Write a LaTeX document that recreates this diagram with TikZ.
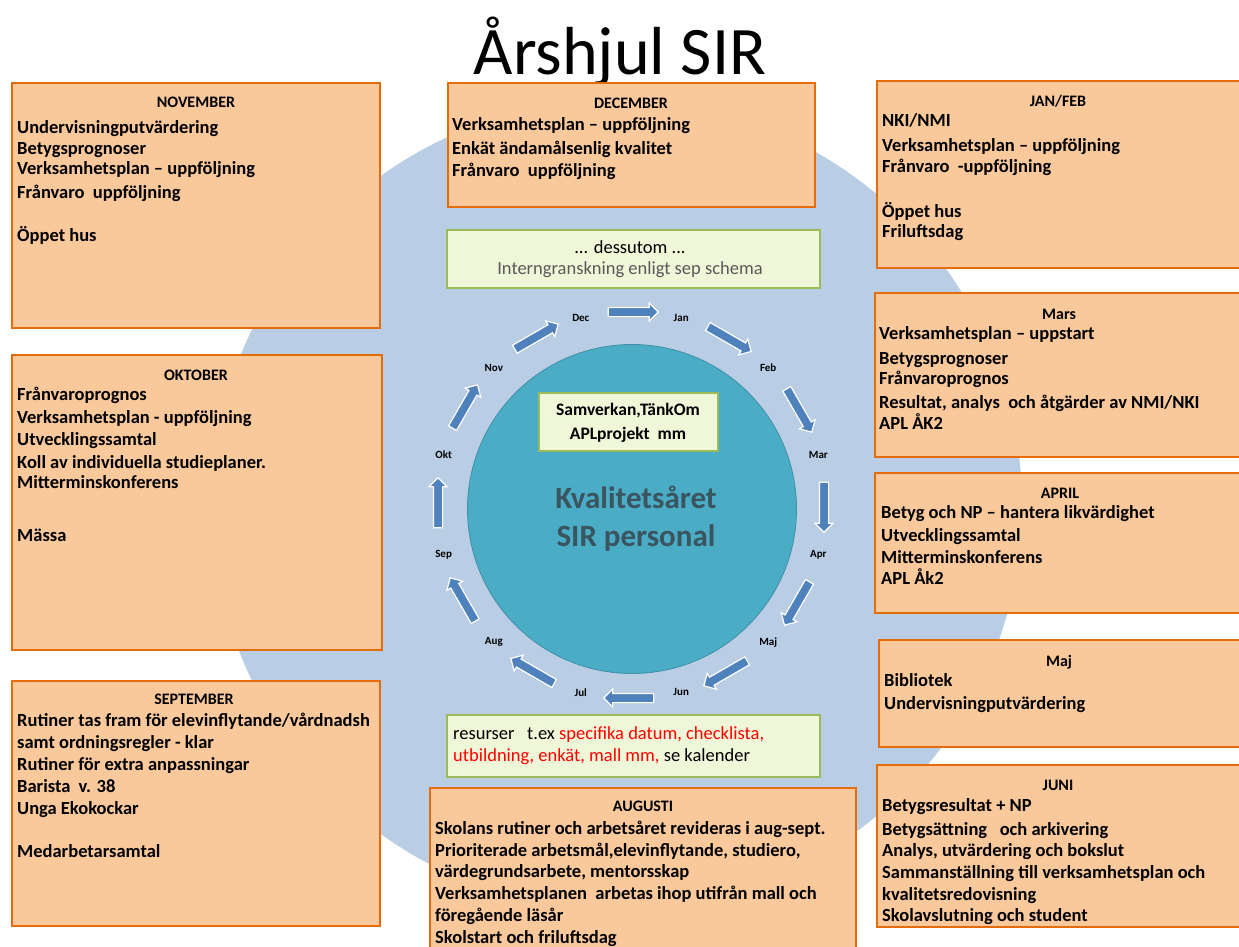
\documentclass[tikz,border=0pt]{standalone}
\usepackage{fontspec}
\setmainfont{Carlito}
\usetikzlibrary{shapes.arrows}
\definecolor{bgblue}{HTML}{B9CDE5}
\definecolor{tealfill}{HTML}{4BACC6}
\definecolor{tealline}{HTML}{3F8FA6}
\definecolor{arrowblue}{HTML}{4F81BD}
\definecolor{boxfill}{HTML}{F9C89B}
\definecolor{boxline}{HTML}{E46C0A}
\definecolor{gfill}{HTML}{F0F6D8}
\definecolor{gline}{HTML}{9BBB59}
\definecolor{centertext}{HTML}{3A5460}
\definecolor{graytext}{HTML}{595959}
\definecolor{redtext}{HTML}{FF0000}
\tikzset{
  obox/.style={draw=boxline, line width=1.6pt, fill=boxfill},
  gbox/.style={draw=gline, line width=2pt, fill=gfill},
  ttl/.style={font=\fontsize{16}{19}\selectfont\bfseries, anchor=base, inner sep=0pt},
  ln/.style={font=\fontsize{18.5}{21}\selectfont\bfseries, anchor=base west, inner sep=0pt},
  gtxt/.style={font=\fontsize{18.5}{22}\selectfont, inner sep=0pt},
  mlab/.style={font=\fontsize{11}{13}\selectfont\bfseries, inner sep=0pt},
  blk/.style={single arrow, draw=white, line width=1.2pt, fill=arrowblue,
    minimum height=50pt, inner sep=4pt, single arrow head extend=4.5pt,
    single arrow head indent=0pt},
}
\begin{document}
\begin{tikzpicture}[x=1pt,y=-1pt]
\useasboundingbox (0,0) rectangle (1239,947);
\fill[white] (0,0) rectangle (1239,947);
% background disc
\fill[bgblue] (617,505) circle[radius=405];
% title
\node[anchor=base, font=\fontsize{68}{80}\selectfont, inner sep=0pt] (title) at (620,75) {Årshjul SIR};
% hub
\node[circle, draw=tealline, line width=0.8pt, fill=tealfill, minimum size=329pt, inner sep=0pt] (hub) at (632,509) {};
\node[anchor=base, font=\fontsize{31}{36}\selectfont\bfseries, text=centertext, inner sep=0pt] (kv) at (636,508) {Kvalitetsåret};
\node[anchor=base, font=\fontsize{31}{36}\selectfont\bfseries, text=centertext, inner sep=0pt] (sirp) at (636,546) {SIR personal};
% inner green box
\path[gbox] (539,393) rectangle (718,451);
\node[anchor=base, font=\fontsize{17.5}{20}\selectfont\bfseries, inner sep=0pt] (samv) at (628,415) {Samverkan,TänkOm};
\node[anchor=base, font=\fontsize{17.5}{20}\selectfont\bfseries, inner sep=0pt] (aplp) at (628,439) {APLprojekt\ \ mm};
% month ring
\foreach \m [count=\i from 0] in {Dec,Jan,Feb,Mar,Apr,Maj,Jun,Jul,Aug,Sep,Okt,Nov} {
  \pgfmathsetmacro\ang{105-30*\i}
  \pgfmathsetmacro\bng{90-30*\i}
  \node[mlab] (m-\m) at ({631+194*cos(\ang)},{505-194*sin(\ang)}) {\m};
  \node[blk, rotate=\bng-90] (arr-\i) at ({631+193*cos(\bng)},{505-193*sin(\bng)}) {};
}
% top green box
\path[gbox] (447,230) rectangle (820,288);
\node[gtxt, anchor=base] (dess) at (630,253) {... dessutom ...};
\node[gtxt, anchor=base, text=graytext] (intg) at (630,274) {Interngranskning enligt sep schema};
% bottom green box
\path[gbox] (447,715) rectangle (820,777);
\node[gtxt, anchor=base west] (res1) at (453,739) {resurser\ \ \ t.ex \textcolor{redtext}{specifika datum, checklista,}};
\node[gtxt, anchor=base west] (res2) at (453,761) {\textcolor{redtext}{utbildning, enkät, mall mm,} se kalender};
% NOVEMBER
\path[obox] (12,83) rectangle (380,328);
\node[ttl] (nov-t) at (196,108) {NOVEMBER};
\foreach \y/\t [count=\k] in {133/Undervisningputvärdering,154/Betygsprognoser,175/{Verksamhetsplan – uppföljning},198/{Frånvaro\ \ uppföljning},241/{Öppet hus}}
  \node[ln] (nov-\k) at (17,\y) {\t};
% DECEMBER
\path[obox] (448,83) rectangle (815,207);
\node[ttl] (dec-t) at (631,109) {DECEMBER};
\foreach \y/\t [count=\k] in {131/{Verksamhetsplan – uppföljning},154/{Enkät ändamålsenlig kvalitet},176/{Frånvaro\ \ uppföljning}}
  \node[ln] (dec-\k) at (452,\y) {\t};
% JAN/FEB
\path[obox] (877,81) rectangle (1242,268);
\node[ttl] (jan-t) at (1058,107) {JAN/FEB};
\foreach \y/\t [count=\k] in {127/{NKI/NMI},151/{Verksamhetsplan – uppföljning},172/{Frånvaro\ \ -uppföljning},217/{Öppet hus},237/Friluftsdag}
  \node[ln] (jan-\k) at (882,\y) {\t};
% OKTOBER
\path[obox] (12,355) rectangle (382,650);
\node[ttl] (okt-t) at (196,380) {OKTOBER};
\foreach \y/\t [count=\k] in {400/Frånvaroprognos,423/{Verksamhetsplan - uppföljning},445/Utvecklingssamtal,468/{Koll av individuella studieplaner.},488/Mitterminskonferens,541/Mässa}
  \node[ln] (okt-\k) at (17,\y) {\t};
% MARS
\path[obox] (875,293) rectangle (1242,457);
\node[ttl] (mar-t) at (1059,319) {Mars};
\foreach \y/\t [count=\k] in {339/{Verksamhetsplan – uppstart},364/Betygsprognoser,384/Frånvaroprognos,408/{Resultat, analys\ \ och åtgärder av NMI/NKI},429/{APL ÅK2}}
  \node[ln] (mar-\k) at (879,\y) {\t};
% APRIL
\path[obox] (875,473) rectangle (1242,613);
\node[ttl] (apr-t) at (1060,498) {APRIL};
\foreach \y/\t [count=\k] in {518/{Betyg och NP – hantera likvärdighet},541/Utvecklingssamtal,563/Mitterminskonferens,584/{APL Åk2}}
  \node[ln] (apr-\k) at (881,\y) {\t};
% MAJ
\path[obox] (879,640) rectangle (1242,747);
\node[ttl] (maj-t) at (1059,666) {Maj};
\foreach \y/\t [count=\k] in {686/Bibliotek,709/Undervisningputvärdering}
  \node[ln] (maj-\k) at (884,\y) {\t};
% SEPTEMBER
\path[obox] (12,681) rectangle (380,926);
\node[ttl] (sep-t) at (194,704) {SEPTEMBER};
\foreach \y/\t [count=\k] in {726/{Rutiner tas fram för elevinflytande/vårdnadsh},748/{samt ordningsregler - klar},770/{Rutiner för extra anpassningar},792/{Barista\ \ v. 38},814/{Unga Ekokockar},857/Medarbetarsamtal}
  \node[ln] (sep-\k) at (17,\y) {\t};
% AUGUSTI
\path[obox] (430,788) rectangle (856,960);
\node[ttl] (aug-t) at (643,811) {AUGUSTI};
\foreach \y/\t [count=\k] in {834/{Skolans rutiner och arbetsåret revideras i aug-sept.},856/{Prioriterade arbetsmål,elevinflytande, studiero,},877/{värdegrundsarbete, mentorsskap},899/{Verksamhetsplanen\ \ arbetas ihop utifrån mall och},921/{föregående läsår},943/{Skolstart och friluftsdag}}
  \node[ln] (aug-\k) at (435,\y) {\t};
% JUNI
\path[obox] (877,765) rectangle (1242,927);
\node[ttl] (jun-t) at (1058,790) {JUNI};
\foreach \y/\t [count=\k] in {811/{Betygsresultat + NP},835/{Betygsättning\ \ \ och arkivering},856/{Analys, utvärdering och bokslut},878/{Sammanställning till verksamhetsplan och},900/kvalitetsredovisning,921/{Skolavslutning och student}}
  \node[ln] (jun-\k) at (882,\y) {\t};
\end{tikzpicture}
\end{document}
